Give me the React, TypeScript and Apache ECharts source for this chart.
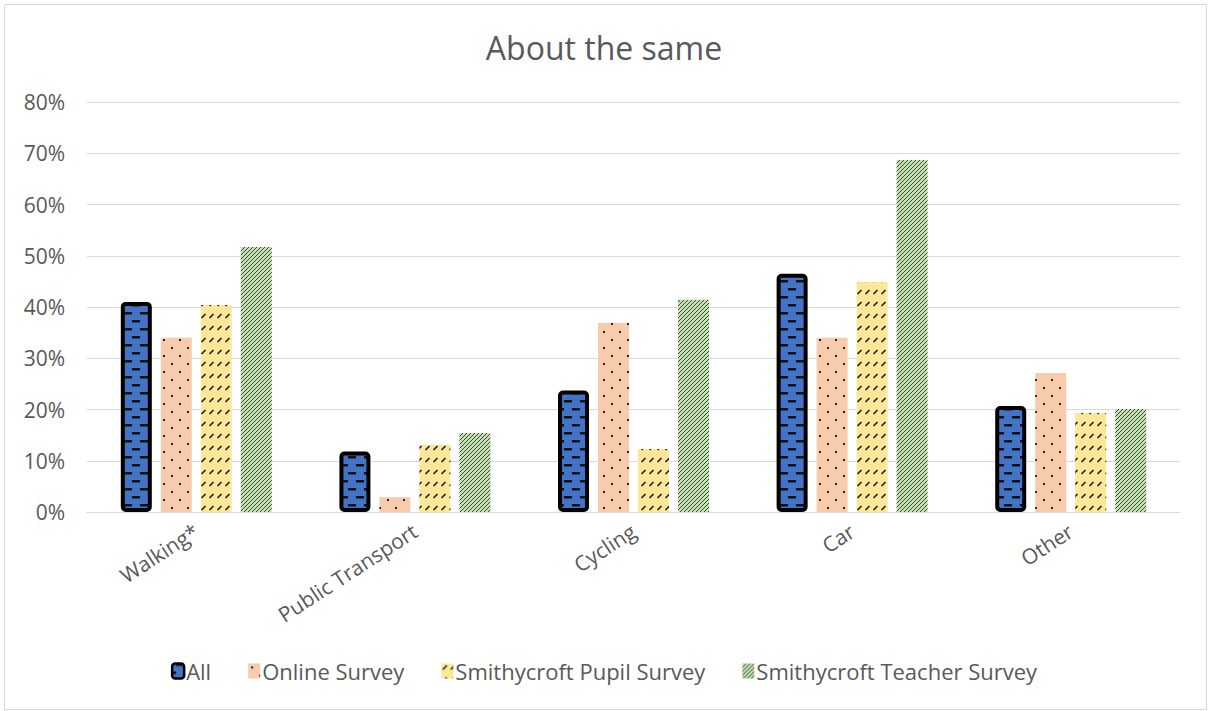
import React, { useEffect, useRef } from "react";
import * as echarts from "echarts";

// Travel modes and survey shares (percent)
const categories = ["Walking*", "Public Transport", "Cycling", "Car", "Other"];
const seriesNames = ["All", "Online Survey", "Smithycroft Pupil Survey", "Smithycroft Teacher Survey"];
const allValues = [41.0, 11.8, 23.7, 46.5, 20.7];
const onlineValues = [34.0, 2.9, 36.9, 34.0, 27.1];
const pupilValues = [40.4, 13.1, 12.3, 44.9, 19.3];
const teacherValues = [51.7, 15.4, 41.4, 68.7, 20.1];
const yTicks = [0, 10, 20, 30, 40, 50, 60, 70, 80];

const TEXT = "#595959";
const FONT = "Open Sans";

function tile(w: number, h: number, bg: string, draw: (c: CanvasRenderingContext2D) => void) {
  const cv = document.createElement("canvas");
  cv.width = w;
  cv.height = h;
  const ctx = cv.getContext("2d")!;
  ctx.fillStyle = bg;
  ctx.fillRect(0, 0, w, h);
  draw(ctx);
  return { image: cv, repeat: "repeat" } as any;
}

function makePatterns() {
  // dashed horizontal on blue
  const blue = tile(16, 16, "#4472C4", (c) => {
    c.fillStyle = "#111";
    c.fillRect(4, 0, 8, 2.5);
    c.fillRect(0, 8, 4, 2.5);
    c.fillRect(12, 8, 4, 2.5);
  });
  // sparse dots on peach
  const peach = tile(16, 16, "#F8CBAD", (c) => {
    c.fillStyle = "#222";
    c.fillRect(3, 3, 2, 2);
    c.fillRect(11, 11, 2, 2);
  });
  // dashed upward diagonal on yellow
  const yellow = tile(8, 12, "#FFE699", (c) => {
    c.strokeStyle = "#1a1a1a";
    c.lineWidth = 1.6;
    c.beginPath();
    c.moveTo(1.5, 6);
    c.lineTo(5.5, 2);
    c.stroke();
  });
  // dark upward diagonal on green
  const green = tile(4, 4, "#C5E0B4", (c) => {
    c.strokeStyle = "#2b3a24";
    c.lineWidth = 0.9;
    c.beginPath();
    c.moveTo(-1, 5);
    c.lineTo(5, -1);
    c.moveTo(-1, 1);
    c.lineTo(1, -1);
    c.moveTo(3, 5);
    c.lineTo(5, 3);
    c.stroke();
  });
  return { blue, peach, yellow, green };
}

export default function App() {
  const ref = useRef<HTMLDivElement>(null);

  useEffect(() => {
    if (!ref.current) return;
    const chart = echarts.init(ref.current, undefined, { renderer: "svg" });
    const p = makePatterns();

    const barBase = { type: "bar" as const, barWidth: 31, barGap: "29%" };

    chart.setOption({
      animation: false,
      backgroundColor: "#ffffff",
      textStyle: { fontFamily: FONT },
      title: {
        text: "About the same",
        left: "center",
        top: 26,
        textStyle: { fontFamily: FONT, fontSize: 32, fontWeight: "normal", color: TEXT },
      },
      graphic: [
        {
          type: "rect",
          shape: { x: 4.5, y: 4.5, width: 1202, height: 705 },
          style: { fill: "none", stroke: "#D9D9D9", lineWidth: 1 },
          silent: true,
        },
      ],
      grid: { left: 87, right: 28, top: 102, bottom: 199, containLabel: false },
      legend: {
        left: "center",
        top: 655,
        itemWidth: 12,
        itemHeight: 15,
        itemGap: 37,
        textStyle: { fontFamily: FONT, fontSize: 22, color: TEXT, padding: [0, 0, 0, -3] },
        data: [
          { name: seriesNames[0], icon: "roundRect", itemStyle: { borderColor: "#000", borderWidth: 2.5 } },
          { name: seriesNames[1], icon: "rect" },
          { name: seriesNames[2], icon: "rect" },
          { name: seriesNames[3], icon: "rect" },
        ],
      },
      xAxis: {
        type: "category",
        data: categories,
        axisTick: { show: false },
        axisLine: { lineStyle: { color: "#D9D9D9", width: 1 } },
        axisLabel: {
          rotate: 33,
          margin: 17,
          interval: 0,
          color: TEXT,
          fontSize: 21,
          fontFamily: FONT,
        },
      },
      yAxis: {
        type: "value",
        min: yTicks[0],
        max: yTicks[yTicks.length - 1],
        interval: 10,
        axisLine: { show: false },
        axisTick: { show: false },
        splitLine: { lineStyle: { color: "#D9D9D9", width: 1 } },
        axisLabel: {
          formatter: "{value}%",
          color: TEXT,
          fontSize: 21,
          fontFamily: FONT,
          margin: 22,
        },
      },
      series: [
        {
          ...barBase,
          name: seriesNames[0],
          data: allValues,
          z: 3,
          itemStyle: { color: p.blue, borderColor: "#000", borderWidth: 4, borderRadius: 3 },
        },
        {
          ...barBase,
          name: seriesNames[1],
          data: onlineValues,
          itemStyle: { color: p.peach },
        },
        {
          ...barBase,
          name: seriesNames[2],
          data: pupilValues,
          itemStyle: { color: p.yellow },
        },
        {
          ...barBase,
          name: seriesNames[3],
          data: teacherValues,
          itemStyle: { color: p.green },
        },
      ],
    });

    return () => chart.dispose();
  }, []);

  return (
    <div
      ref={ref}
      style={{ position: "fixed", left: 0, top: 0, width: 1208, height: 711, background: "#fff" }}
    />
  );
}
